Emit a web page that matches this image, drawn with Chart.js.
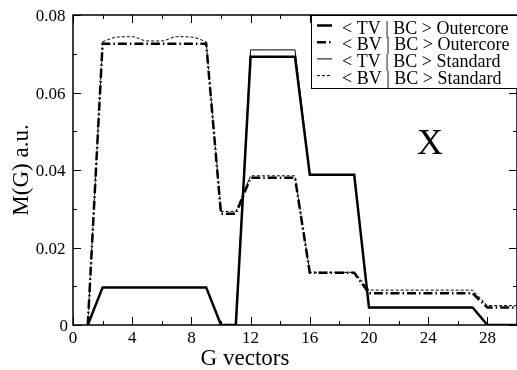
<!DOCTYPE html>
<html>
<head>
<meta charset="utf-8">
<script src="https://cdn.jsdelivr.net/npm/chart.js@4.4.1/dist/chart.umd.min.js"></script>
<style>
  html, body { margin: 0; padding: 0; background: #fff; overflow: hidden; }
  #wrap { width: 520px; height: 370px; }
</style>
</head>
<body>
<div id="wrap"><canvas id="chart" width="520" height="370"></canvas></div>
<script>
// G vector index
const gVectors = [1, 2, 3, 4, 5, 6, 7, 8, 9, 10, 11, 12, 13, 14, 15, 16, 17, 18, 19, 20, 21, 22, 23, 24, 25, 26, 27, 28, 29, 30];

const tvOutercore = [0, 0.0097, 0.0097, 0.0097, 0.0097, 0.0097, 0.0097, 0.0097, 0.0097, 0, 0,
  0.0692, 0.0692, 0.0692, 0.0692, 0.0388, 0.0388, 0.0388, 0.0388,
  0.0045, 0.0045, 0.0045, 0.0045, 0.0045, 0.0045, 0.0045, 0.0045, 0, 0, 0];
const bvOutercore = [0, 0.0726, 0.0726, 0.0726, 0.0726, 0.0726, 0.0726, 0.0726, 0.0726, 0.0287, 0.0287,
  0.0380, 0.0380, 0.0380, 0.0380, 0.0135, 0.0135, 0.0135, 0.0135,
  0.0082, 0.0082, 0.0082, 0.0082, 0.0082, 0.0082, 0.0082, 0.0082, 0.0045, 0.0045, 0.0045];
const tvStandard = [0, 0.0097, 0.0097, 0.0097, 0.0097, 0.0097, 0.0097, 0.0097, 0.0097, 0, 0,
  0.0710, 0.0710, 0.0710, 0.0710, 0.0388, 0.0388, 0.0388, 0.0388,
  0.0045, 0.0045, 0.0045, 0.0045, 0.0045, 0.0045, 0.0045, 0.0045, 0, 0, 0];
const bvStandard = [0, 0.0731, 0.0743, 0.0744, 0.0733, 0.0733, 0.0744, 0.0743, 0.0731, 0.0293, 0.0293,
  0.0385, 0.0385, 0.0385, 0.0385, 0.0136, 0.0136, 0.0136, 0.0136,
  0.0090, 0.0090, 0.0090, 0.0090, 0.0090, 0.0090, 0.0090, 0.0090, 0.0050, 0.0050, 0.0050];

const legendLabels = ["< TV | BC > Outercore", "< BV | BC > Outercore", "< TV | BC > Standard", "< BV | BC > Standard"];
const xTicks = [0, 4, 8, 12, 16, 20, 24, 28];
const yTicks = [0, 0.02, 0.04, 0.06, 0.08];

const FONT = "'Liberation Serif', 'DejaVu Serif', serif";

const toPts = (arr) => gVectors.map((g, i) => ({ x: g, y: arr[i] }));

// wavy part of the standard BV curve (G = 2..9) is drawn smooth, the rest straight
const wavyFrom = 1, wavyTo = 8;
const bvStdWavy = toPts(bvStandard).slice(wavyFrom, wavyTo + 1);

const styles = [
  { width: 2.5, dash: [] },
  { width: 2.5, dash: [9, 3, 1.5, 3] },
  { width: 1, dash: [] },
  { width: 1, dash: [3, 2] },
];

const yLabel = (v) => v === 0 ? "0" : v.toFixed(2);

const framePlugin = {
  id: "frame",
  afterDatasetsDraw(chart) {
    const { ctx, chartArea: a, scales: { x, y } } = chart;
    ctx.save();
    ctx.strokeStyle = "#000";
    ctx.lineWidth = 1.5;
    ctx.setLineDash([]);
    ctx.strokeRect(a.left, a.top, a.right - a.left, a.bottom - a.top);
    ctx.lineWidth = 1;
    for (let v = 0; v <= 30; v += 2) {
      const px = Math.round(x.getPixelForValue(v)) + 0.5;
      const len = v % 4 === 0 ? 8 : 4;
      ctx.beginPath();
      ctx.moveTo(px, a.bottom); ctx.lineTo(px, a.bottom - len);
      ctx.moveTo(px, a.top); ctx.lineTo(px, a.top + len);
      ctx.stroke();
    }
    for (let k = 0; k <= 8; k++) {
      const py = Math.round(y.getPixelForValue(k / 100)) + 0.5;
      const len = k % 2 === 0 ? 8 : 4;
      ctx.beginPath();
      ctx.moveTo(a.left, py); ctx.lineTo(a.left + len, py);
      ctx.moveTo(a.right, py); ctx.lineTo(a.right - len, py);
      ctx.stroke();
    }

    // tick labels, placed from the scales' own ticks
    ctx.fillStyle = "#000";
    ctx.font = "17px " + FONT;
    ctx.textBaseline = "alphabetic";
    ctx.textAlign = "center";
    x.ticks.forEach(t => ctx.fillText(String(t.value), x.getPixelForValue(t.value), 343));
    ctx.textAlign = "right";
    y.ticks.forEach(t => {
      const py = y.getPixelForValue(t.value);
      if (t.value === 0) ctx.fillText("0", 68, py + 6);
      else ctx.fillText(yLabel(t.value), 65.5, py + 6);
    });

    // axis titles and panel letter
    ctx.font = "23px " + FONT;
    ctx.textAlign = "center";
    ctx.fillText("G vectors", 245, 365);
    ctx.save();
    ctx.translate(28, (a.top + a.bottom) / 2);
    ctx.rotate(-Math.PI / 2);
    ctx.fillText("M(G) a.u.", 0, 0);
    ctx.restore();
    ctx.font = "36px " + FONT;
    ctx.fillText("X", 430, 154);

    // legend
    const lx = 311, ly = a.top, lw = a.right - lx, lh = 73;
    ctx.fillStyle = "#fff";
    ctx.fillRect(lx, ly, lw, lh);
    ctx.strokeStyle = "#000";
    ctx.lineWidth = 1;
    ctx.strokeRect(lx + 0.5, ly + 0.5, lw, lh);
    ctx.font = "18px " + FONT;
    ctx.textAlign = "left";
    ctx.fillStyle = "#000";
    legendLabels.forEach((label, i) => {
      const base = 33.5 + i * 16.7;
      const s = styles[i];
      ctx.lineWidth = s.width;
      ctx.setLineDash(s.dash);
      ctx.beginPath();
      ctx.moveTo(317, base - 8);
      ctx.lineTo(332, base - 8);
      ctx.stroke();
      ctx.setLineDash([]);
      ctx.fillText(label, 342, base);
    });
    ctx.restore();
  }
};

new Chart(document.getElementById("chart"), {
  type: "line",
  data: {
    datasets: [
      { label: legendLabels[0], data: toPts(tvOutercore), borderWidth: styles[0].width, borderDash: styles[0].dash },
      { label: legendLabels[1], data: toPts(bvOutercore), borderWidth: styles[1].width, borderDash: styles[1].dash },
      { label: legendLabels[2], data: toPts(tvStandard), borderWidth: styles[2].width, borderDash: styles[2].dash },
      {
        label: legendLabels[3], data: toPts(bvStandard), borderWidth: styles[3].width, borderDash: styles[3].dash,
        segment: {
          borderColor: (c) => (c.p0DataIndex >= wavyFrom && c.p1DataIndex <= wavyTo) ? "rgba(0,0,0,0)" : "#000"
        }
      },
      {
        label: "wavy", data: bvStdWavy, borderWidth: styles[3].width, borderDash: styles[3].dash,
        cubicInterpolationMode: "monotone"
      },
    ].map(d => Object.assign({ borderColor: "#000", pointRadius: 0, fill: false, tension: 0 }, d))
  },
  options: {
    responsive: false,
    animation: false,
    layout: { padding: { top: 15, right: 3, left: 0, bottom: 0 } },
    plugins: { legend: { display: false }, tooltip: { enabled: false } },
    scales: {
      x: {
        type: "linear", min: 0, max: 30,
        grid: { display: false }, border: { display: false },
        afterBuildTicks: (s) => { s.ticks = xTicks.map(v => ({ value: v })); },
        afterFit: (s) => { s.height = 45; },
        ticks: { display: false }
      },
      y: {
        type: "linear", min: 0, max: 0.08,
        grid: { display: false }, border: { display: false },
        afterBuildTicks: (s) => { s.ticks = yTicks.map(v => ({ value: v })); },
        afterFit: (s) => { s.width = 73; },
        ticks: { display: false }
      }
    }
  },
  plugins: [framePlugin]
});
</script>
</body>
</html>
